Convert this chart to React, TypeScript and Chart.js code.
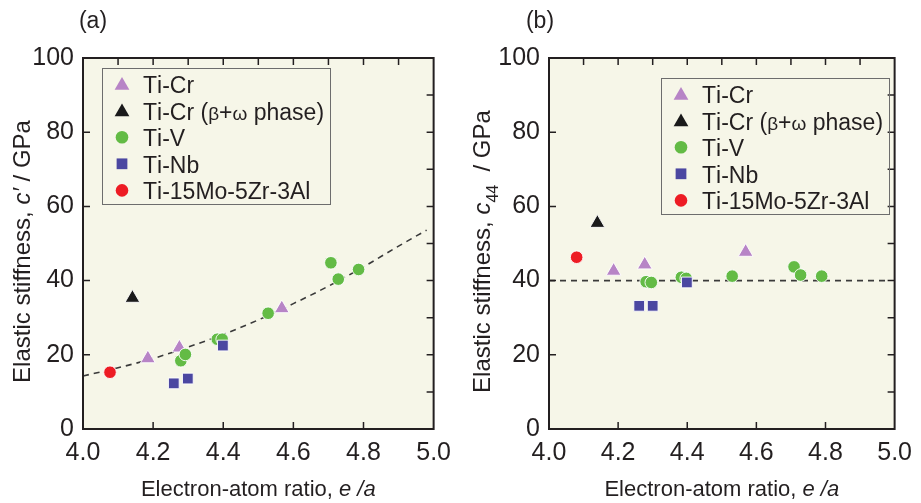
import React, { useEffect, useRef } from 'react';
import { Chart, registerables } from 'chart.js';

Chart.register(...registerables);

const FONT = "'Liberation Sans', Arial, Helvetica, sans-serif";
const INK = '#231f20';
const PLOT_BG = '#f6f6e8';

// ---- series definitions ----
const seriesLabels = ['Ti-Cr', 'Ti-Cr (β+ω phase)', 'Ti-V', 'Ti-Nb', 'Ti-15Mo-5Zr-3Al'];
const seriesColors = ['#b784c6', '#1a1a1a', '#63bb45', '#4b47a1', '#ed1c24'];
const seriesStyles = ['triangle', 'triangle', 'circle', 'rect', 'circle'];
const seriesRadius = [8.5, 8.5, 6.3, 7.6, 6.3];
const seriesOrder = [3, 2, 1, 0, 1];

// ---- panel (a): c' ----
const aTiCrX = [4.185, 4.275, 4.567];
const aTiCrY = [19.0, 21.9, 32.5];
const aTiCrBwX = [4.141];
const aTiCrBwY = [35.3];
const aTiVX = [4.279, 4.292, 4.383, 4.397, 4.528, 4.707, 4.728, 4.786];
const aTiVY = [18.4, 20.1, 24.2, 24.2, 31.2, 44.8, 40.4, 43.0];
const aTiNbX = [4.259, 4.299, 4.399];
const aTiNbY = [12.3, 13.6, 22.5];
const aTiMoX = [4.077];
const aTiMoY = [15.3];
const aFitX = [4.0, 4.1, 4.2, 4.3, 4.4, 4.5, 4.6, 4.7, 4.8, 4.9, 4.98];
const aFitY = [14.3, 16.5, 19.0, 22.1, 25.5, 29.4, 33.8, 38.5, 43.7, 49.3, 53.6];

// ---- panel (b): c44 ----
const bTiCrX = [4.187, 4.277, 4.569];
const bTiCrY = [42.6, 44.3, 47.7];
const bTiCrBwX = [4.14];
const bTiCrBwY = [55.5];
const bTiVX = [4.281, 4.296, 4.383, 4.397, 4.53, 4.709, 4.728, 4.789];
const bTiVY = [39.7, 39.5, 40.9, 40.6, 41.2, 43.7, 41.5, 41.2];
const bTiNbX = [4.261, 4.3, 4.399];
const bTiNbY = [33.2, 33.2, 39.5];
const bTiMoX = [4.08];
const bTiMoY = [46.3];
const bFitX = [4.0, 4.975];
const bFitY = [40, 40];

// ---- axes ----
const xMin = 4.0;
const xMax = 5.0;
const xStep = 0.2;
const yMin = 0;
const yMax = 100;
const yStep = 20;

type Seg = { t: string; style?: 'italic' | 'normal'; sub?: boolean };

function pts(xs: number[], ys: number[]) {
  return xs.map((x, i) => ({ x, y: ys[i] }));
}

function drawMarker(ctx: CanvasRenderingContext2D, style: string, x: number, y: number, r: number, color: string) {
  ctx.beginPath();
  if (style === 'circle') {
    ctx.arc(x, y, r, 0, Math.PI * 2);
  } else if (style === 'triangle') {
    let rad = 0;
    ctx.moveTo(x + Math.sin(rad) * r, y - Math.cos(rad) * r);
    rad += (2 * Math.PI) / 3;
    ctx.lineTo(x + Math.sin(rad) * r, y - Math.cos(rad) * r);
    rad += (2 * Math.PI) / 3;
    ctx.lineTo(x + Math.sin(rad) * r, y - Math.cos(rad) * r);
    ctx.closePath();
  } else {
    const s = r * Math.SQRT1_2;
    ctx.rect(x - s, y - s, 2 * s, 2 * s);
  }
  ctx.fillStyle = color;
  ctx.fill();
}

function drawSegs(ctx: CanvasRenderingContext2D, segs: Seg[], size: number) {
  const subSize = Math.round(size * 0.68);
  const fontFor = (s: Seg) => `${s.style === 'italic' ? 'italic ' : ''}${s.sub ? subSize : size}px ${FONT}`;
  let total = 0;
  const widths = segs.map((s) => {
    ctx.font = fontFor(s);
    const w = ctx.measureText(s.t).width;
    total += w;
    return w;
  });
  let x = -total / 2;
  ctx.textBaseline = 'alphabetic';
  ctx.textAlign = 'left';
  segs.forEach((s, i) => {
    ctx.font = fontFor(s);
    ctx.fillText(s.t, x, s.sub ? size * 0.35 + size * 0.3 : size * 0.35);
    x += widths[i];
  });
}

// legend label: Greek letters drawn slightly smaller, as in the original
function drawLegendLabel(ctx: CanvasRenderingContext2D, label: string, x: number, y: number) {
  ctx.textAlign = 'left';
  ctx.textBaseline = 'alphabetic';
  let cx = x;
  for (const ch of label) {
    const greek = ch === 'β' || ch === 'ω';
    ctx.font = `${greek ? 19 : 23}px ${FONT}`;
    ctx.fillText(ch, cx, y);
    cx += ctx.measureText(ch).width;
  }
}

const decorPlugin = {
  id: 'decor',
  beforeDraw(chart: any) {
    const { ctx, chartArea: a } = chart;
    ctx.save();
    ctx.fillStyle = '#ffffff';
    ctx.fillRect(0, 0, chart.width, chart.height);
    ctx.fillStyle = PLOT_BG;
    ctx.fillRect(a.left, a.top, a.right - a.left, a.bottom - a.top);
    ctx.restore();
  },
  afterDraw(chart: any, _args: any, opts: any) {
    const { ctx, chartArea: a } = chart;
    const xs = chart.scales.x;
    const ys = chart.scales.y;
    ctx.save();
    // ticks (inward)
    ctx.strokeStyle = INK;
    ctx.lineWidth = 1.5;
    const tl = 7;
    ctx.beginPath();
    for (let i = 1; i < 10; i++) {
      const px = xs.getPixelForValue(xMin + i * 0.1);
      ctx.moveTo(px, a.top);
      ctx.lineTo(px, a.top + tl);
      if (i % 2 === 0) {
        ctx.moveTo(px, a.bottom);
        ctx.lineTo(px, a.bottom - tl);
      }
    }
    for (let i = 1; i < 10; i++) {
      const py = ys.getPixelForValue(yMin + i * 10);
      ctx.moveTo(a.right, py);
      ctx.lineTo(a.right - tl, py);
      if (i % 2 === 0) {
        ctx.moveTo(a.left, py);
        ctx.lineTo(a.left + tl, py);
      }
    }
    ctx.stroke();
    // frame
    ctx.lineWidth = 2;
    ctx.strokeRect(a.left, a.top, a.right - a.left, a.bottom - a.top);

    // legend
    const L = opts.legend;
    const bx = a.left + L.dx;
    const by = a.top + L.dy;
    ctx.lineWidth = 1;
    ctx.strokeStyle = '#6d6d6d';
    ctx.strokeRect(bx + 0.5, by + 0.5, L.w, L.h);
    chart.data.datasets.forEach((ds: any, i: number) => {
      if (i >= seriesLabels.length) return;
      const cy = by + 16 + i * 26.6;
      drawMarker(ctx, seriesStyles[i], bx + 20, cy + (seriesStyles[i] === 'triangle' ? 1.5 : 0), seriesRadius[i], seriesColors[i]);
      ctx.fillStyle = INK;
      drawLegendLabel(ctx, ds.label, bx + 41, cy + 9);
    });

    // panel label
    ctx.fillStyle = INK;
    ctx.font = `23px ${FONT}`;
    ctx.textAlign = 'center';
    ctx.textBaseline = 'middle';
    ctx.fillText(opts.panel, opts.panelX, 22);

    // x title
    ctx.save();
    ctx.translate((a.left + a.right) / 2, 488);
    drawSegs(ctx, [
      { t: 'Electron-atom ratio, ' },
      { t: 'e /a', style: 'italic' },
    ], 22);
    ctx.restore();

    // y title
    ctx.save();
    ctx.translate(opts.yTitleX, (a.top + a.bottom) / 2 + 8);
    ctx.rotate(-Math.PI / 2);
    drawSegs(ctx, opts.ySegs, 24);
    ctx.restore();

    ctx.restore();
  },
};

type PanelCfg = {
  left: number;
  width: number;
  plotLeft: number;
  plotRight: number;
  series: { x: number[]; y: number[] }[];
  fitX: number[];
  fitY: number[];
  legend: { dx: number; dy: number; w: number; h: number };
  panel: string;
  panelX: number;
  yTitleX: number;
  ySegs: Seg[];
};

function Panel({ cfg }: { cfg: PanelCfg }) {
  const ref = useRef<HTMLCanvasElement>(null);
  useEffect(() => {
    if (!ref.current) return;
    const datasets: any[] = cfg.series.map((s, i) => ({
      label: seriesLabels[i],
      data: pts(s.x, s.y),
      pointStyle: seriesStyles[i],
      pointRadius: seriesRadius[i],
      pointHoverRadius: seriesRadius[i],
      pointBackgroundColor: seriesColors[i],
      pointBorderColor: 'rgba(255,255,255,0.9)',
      pointBorderWidth: 1,
      showLine: false,
      order: seriesOrder[i],
    }));
    datasets.push({
      label: 'fit',
      data: pts(cfg.fitX, cfg.fitY),
      showLine: true,
      borderColor: '#3a3a3a',
      borderWidth: 1.6,
      borderDash: [6, 5],
      pointRadius: 0,
      fill: false,
      cubicInterpolationMode: 'monotone',
      order: 10,
    });
    const chart = new Chart(ref.current, {
      type: 'scatter',
      data: { datasets },
      plugins: [decorPlugin],
      options: {
        responsive: false,
        maintainAspectRatio: false,
        animation: false,
        devicePixelRatio: 1,
        layout: { padding: { left: 0, top: 58, right: cfg.width - cfg.plotRight, bottom: 0 } },
        plugins: {
          legend: { display: false },
          tooltip: { enabled: false },
          decor: {
            legend: cfg.legend,
            panel: cfg.panel,
            panelX: cfg.panelX,
            yTitleX: cfg.yTitleX,
            ySegs: cfg.ySegs,
          },
        } as any,
        scales: {
          x: {
            type: 'linear',
            min: xMin,
            max: xMax,
            ticks: {
              stepSize: xStep,
              callback: (v: any) => Number(v).toFixed(1),
              font: { family: FONT, size: 25 },
              color: INK,
              padding: 9,
              maxRotation: 0,
              autoSkip: false,
            },
            grid: { display: false, drawTicks: false },
            border: { display: false },
            afterFit: (s: any) => {
              s.height = 74;
            },
          },
          y: {
            type: 'linear',
            min: yMin,
            max: yMax,
            ticks: {
              stepSize: yStep,
              font: { family: FONT, size: 25 },
              color: INK,
              padding: 9,
            },
            grid: { display: false, drawTicks: false },
            border: { display: false },
            afterFit: (s: any) => {
              s.width = cfg.plotLeft;
            },
          },
        },
      } as any,
    });
    return () => chart.destroy();
  }, []);
  return (
    <canvas
      ref={ref}
      width={cfg.width}
      height={503}
      style={{ position: 'absolute', left: cfg.left, top: 0, width: cfg.width, height: 503 }}
    />
  );
}

const panelA: PanelCfg = {
  left: 0,
  width: 460,
  plotLeft: 83,
  plotRight: 436,
  series: [
    { x: aTiCrX, y: aTiCrY },
    { x: aTiCrBwX, y: aTiCrBwY },
    { x: aTiVX, y: aTiVY },
    { x: aTiNbX, y: aTiNbY },
    { x: aTiMoX, y: aTiMoY },
  ],
  fitX: aFitX,
  fitY: aFitY,
  legend: { dx: 19, dy: 10, w: 228, h: 136 },
  panel: '(a)',
  panelX: 93,
  yTitleX: 22,
  ySegs: [
    { t: 'Elastic stiffness, ' },
    { t: 'c′', style: 'italic' },
    { t: ' / GPa' },
  ],
};

const panelB: PanelCfg = {
  left: 460,
  width: 461,
  plotLeft: 89,
  plotRight: 442,
  series: [
    { x: bTiCrX, y: bTiCrY },
    { x: bTiCrBwX, y: bTiCrBwY },
    { x: bTiVX, y: bTiVY },
    { x: bTiNbX, y: bTiNbY },
    { x: bTiMoX, y: bTiMoY },
  ],
  fitX: bFitX,
  fitY: bFitY,
  legend: { dx: 112, dy: 20, w: 228, h: 136 },
  panel: '(b)',
  panelX: 80,
  yTitleX: 22,
  ySegs: [
    { t: 'Elastic stiffness, ' },
    { t: 'c', style: 'italic' },
    { t: '44', sub: true },
    { t: '  / GPa' },
  ],
};

export default function App() {
  return (
    <div
      style={{
        position: 'absolute',
        left: 0,
        top: 0,
        width: 921,
        height: 503,
        background: '#ffffff',
        overflow: 'hidden',
      }}
    >
      <Panel cfg={panelA} />
      <Panel cfg={panelB} />
    </div>
  );
}
